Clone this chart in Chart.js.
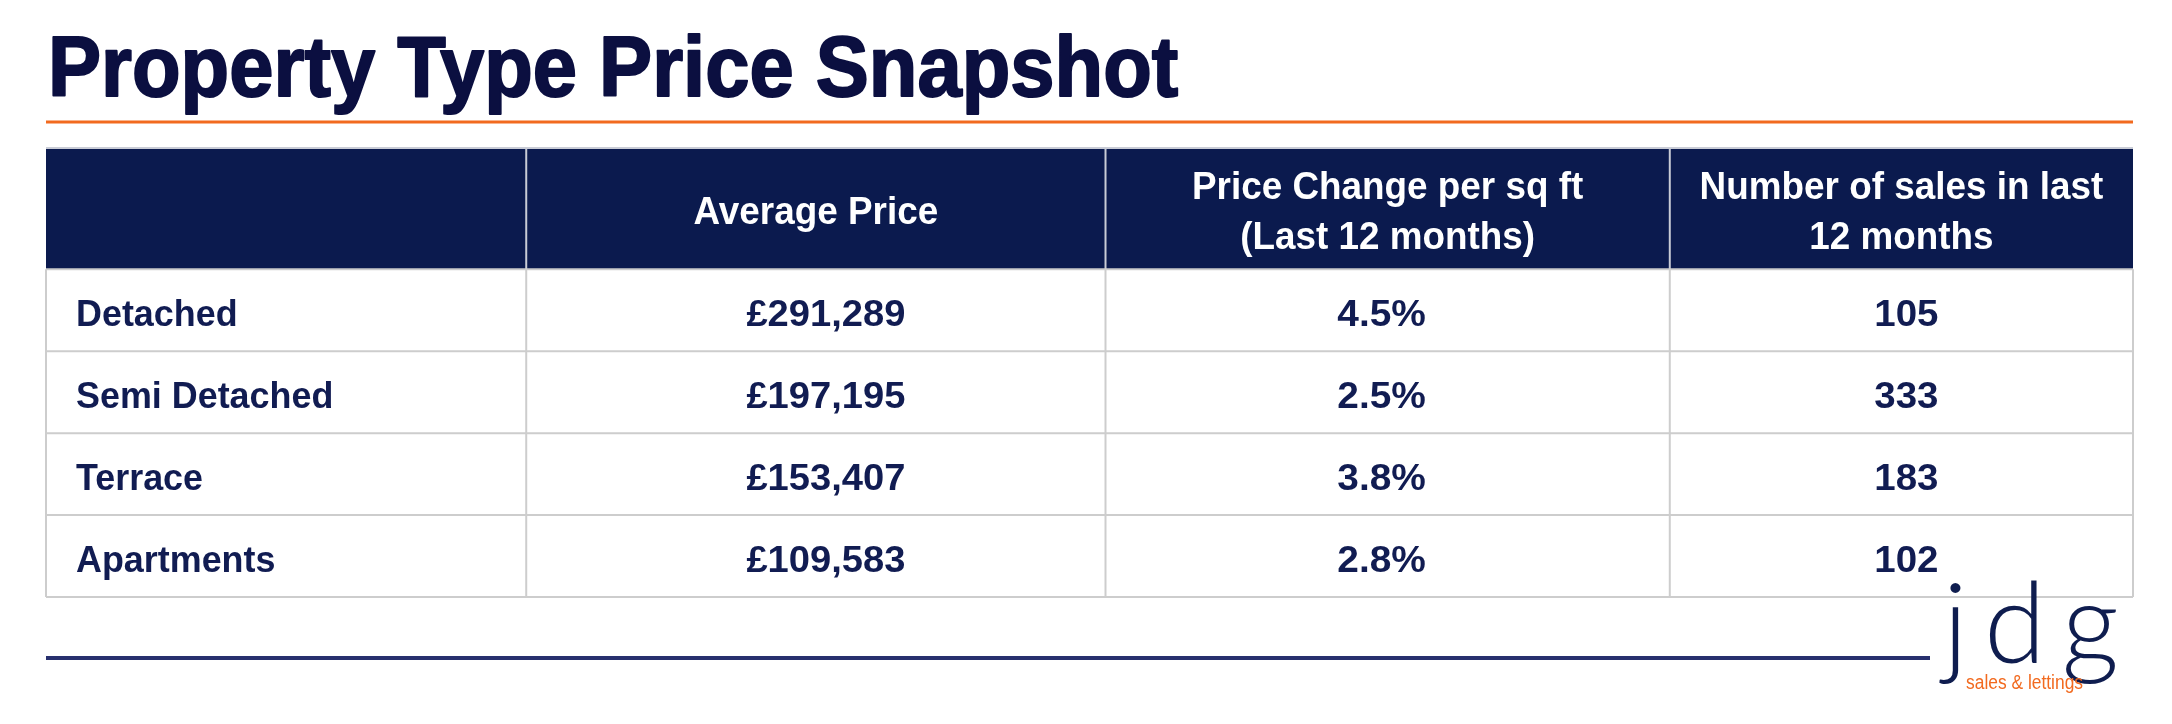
<!DOCTYPE html>
<html>
<head>
<meta charset="utf-8">
<script src="https://cdn.jsdelivr.net/npm/chart.js@4.4.1/dist/chart.umd.min.js"></script>
<style>
html,body{margin:0;padding:0;background:#ffffff;}
#wrap{width:2172px;height:724px;position:relative;}
canvas{display:block;}
</style>
</head>
<body>
<div id="wrap"><canvas id="c" width="2172" height="724"></canvas></div>
<script>
// ---- data ----
const chartTitle = 'Property Type Price Snapshot';
const propertyTypes = ['Detached', 'Semi Detached', 'Terrace', 'Apartments'];
const averagePrice = [291289, 197195, 153407, 109583];
const priceChangePct = [4.5, 2.5, 3.8, 2.8];
const salesLast12Months = [105, 333, 183, 102];
const columnHeaders = [
  [],
  ['Average Price'],
  ['Price Change per sq ft', '(Last 12 months)'],
  ['Number of sales in last', '12 months']
];
const brandMark = 'jdg';
const brandTagline = 'sales & lettings';

// ---- layout (not data) ----
const colWeights = [480, 579, 564, 463];
const headerUnits = 1.48;
const colEdgeVals = colWeights.reduce((a, w) => { a.push(a[a.length - 1] + w); return a; }, [0]);
const rowEdgeVals = [0, headerUnits];
propertyTypes.forEach((_, i) => rowEdgeVals.push(headerUnits + i + 1));

const NAVY_TXT = '#111c52';
const TITLE_COL = '#0b0f40';
const HEAD_BG = '#0b1a4e';
const GRID = '#cdcdcd';
const ORANGE = '#f26a1f';
const RULE_NAVY = '#27306e';
const FONT = '"Liberation Sans", Arial, Helvetica, sans-serif';

function fmtPrice(v) { return '\u00a3' + v.toLocaleString('en-GB'); }
function fmtPct(v) { return v.toFixed(1) + '%'; }

function txt(ctx, s, x, y, align, font, color, sx, stroke) {
  ctx.save();
  ctx.translate(x, y);
  ctx.scale(sx, 1);
  ctx.font = font;
  ctx.fillStyle = color;
  ctx.textAlign = align;
  ctx.textBaseline = 'alphabetic';
  ctx.fillText(s, 0, 0);
  if (stroke) {
    ctx.strokeStyle = color;
    ctx.lineWidth = stroke;
    ctx.lineJoin = 'round';
    ctx.strokeText(s, 0, 0);
  }
  ctx.restore();
}

const tablePlugin = {
  id: 'tablePlugin',
  afterDraw(chart) {
    const ctx = chart.ctx;
    const xs = chart.scales.x, ys = chart.scales.y;
    const ca = chart.chartArea;
    const cx = colEdgeVals.map(v => xs.getPixelForValue(v));
    const ry = rowEdgeVals.map(v => ys.getPixelForValue(v));
    const left = cx[0], right = cx[cx.length - 1];

    // title
    txt(ctx, chartTitle, left + 2, ca.top - 52, 'left', 'bold 86px ' + FONT, TITLE_COL, 0.925, 2);

    // orange rule
    ctx.save();
    ctx.strokeStyle = ORANGE;
    ctx.lineWidth = 3;
    ctx.beginPath();
    ctx.moveTo(left, ca.top - 26);
    ctx.lineTo(right, ca.top - 26);
    ctx.stroke();
    ctx.restore();

    // header background
    ctx.save();
    ctx.fillStyle = HEAD_BG;
    ctx.fillRect(left, ry[0], right - left, ry[1] - ry[0]);
    ctx.strokeStyle = '#c9ccd6';
    ctx.lineWidth = 2;
    ctx.beginPath();
    ctx.moveTo(left, ry[0]); ctx.lineTo(right, ry[0]);
    ctx.stroke();
    for (let i = 1; i < cx.length - 1; i++) {
      ctx.beginPath();
      ctx.moveTo(cx[i], ry[0]); ctx.lineTo(cx[i], ry[1]);
      ctx.stroke();
    }
    // body grid
    ctx.strokeStyle = GRID;
    ctx.lineWidth = 2;
    for (let r = 1; r < ry.length; r++) {
      ctx.beginPath();
      ctx.moveTo(left, ry[r]); ctx.lineTo(right, ry[r]);
      ctx.stroke();
    }
    for (let i = 0; i < cx.length; i++) {
      ctx.beginPath();
      ctx.moveTo(cx[i], ry[1]); ctx.lineTo(cx[i], ry[ry.length - 1]);
      ctx.stroke();
    }
    ctx.restore();

    // header text
    const hFont = 'bold 38px ' + FONT;
    const hMid = (ry[0] + ry[1]) / 2;
    columnHeaders.forEach((lines, c) => {
      const mx = (cx[c] + cx[c + 1]) / 2;
      if (lines.length === 1) {
        txt(ctx, lines[0], mx, hMid + 15, 'center', hFont, '#ffffff', 0.97);
      } else if (lines.length === 2) {
        txt(ctx, lines[0], mx, hMid - 10, 'center', hFont, '#ffffff', 0.97);
        txt(ctx, lines[1], mx, hMid + 40, 'center', hFont, '#ffffff', 0.97);
      }
    });

    // body text
    const bFont = 'bold 37px ' + FONT;
    propertyTypes.forEach((name, r) => {
      const my = (ry[r + 1] + ry[r + 2]) / 2 + 16;
      txt(ctx, name, cx[0] + 30, my, 'left', bFont, NAVY_TXT, 0.97);
      txt(ctx, fmtPrice(averagePrice[r]), (cx[1] + cx[2]) / 2 + 10, my, 'center', bFont, NAVY_TXT, 1.03);
      txt(ctx, fmtPct(priceChangePct[r]), (cx[2] + cx[3]) / 2 - 6, my, 'center', bFont, NAVY_TXT, 1.05);
      txt(ctx, String(salesLast12Months[r]), (cx[3] + cx[4]) / 2 + 5, my, 'center', bFont, NAVY_TXT, 1.04);
    });

    // bottom navy rule
    const by = ry[ry.length - 1] + 61;
    ctx.save();
    ctx.strokeStyle = RULE_NAVY;
    ctx.lineWidth = 4;
    ctx.beginPath();
    ctx.moveTo(left, by);
    ctx.lineTo(right - 203, by);
    ctx.stroke();
    ctx.restore();

    // brand logo
    ctx.save();
    ctx.font = '300 112px Lato, "Noto Sans", sans-serif';
    ctx.fillStyle = '#0f1d4f';
    ctx.textAlign = 'left';
    ctx.textBaseline = 'alphabetic';
    ctx.letterSpacing = '16px';
    ctx.fillText(brandMark, right - 190, by + 5);
    ctx.restore();
    txt(ctx, brandTagline, right - 167, by + 31, 'left', '20px ' + FONT, ORANGE, 0.87);
  }
};

new Chart(document.getElementById('c'), {
  type: 'scatter',
  data: { datasets: [{ data: [], pointRadius: 0 }] },
  options: {
    responsive: false,
    devicePixelRatio: 1,
    animation: false,
    events: [],
    layout: { padding: { left: 46, right: 39, top: 148, bottom: 127 } },
    plugins: { legend: { display: false }, tooltip: { enabled: false }, title: { display: false } },
    scales: {
      x: { type: 'linear', display: false, min: 0, max: colEdgeVals[colEdgeVals.length - 1] },
      y: { type: 'linear', display: false, min: 0, max: rowEdgeVals[rowEdgeVals.length - 1], reverse: true }
    }
  },
  plugins: [tablePlugin]
});
</script>
</body>
</html>
